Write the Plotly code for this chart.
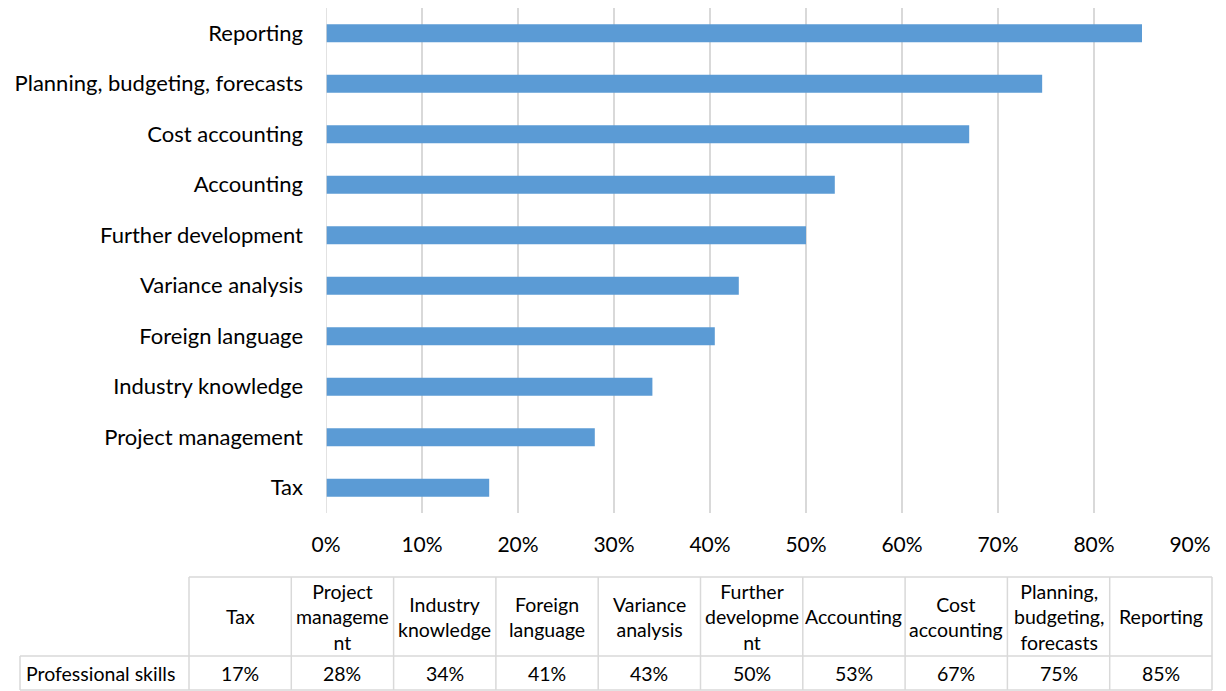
import plotly.graph_objects as go

categories = ["Tax", "Project management", "Industry knowledge", "Foreign language",
              "Variance analysis", "Further development", "Accounting", "Cost accounting",
              "Planning, budgeting, forecasts", "Reporting"]
values = [17, 28, 34, 40.5, 43, 50, 53, 67, 74.6, 85]
table_headers = ["Tax", "Project<br>manageme<br>nt", "Industry<br>knowledge", "Foreign<br>language",
                 "Variance<br>analysis", "Further<br>developme<br>nt", "Accounting", "Cost<br>accounting",
                 "Planning,<br>budgeting,<br>forecasts", "Reporting"]
table_values = ["17%", "28%", "34%", "41%", "43%", "50%", "53%", "67%", "75%", "85%"]
series_name = "Professional skills"

# page body has an 8px margin; shift the figure so it lands on the target pixels
OFF = 8
W, H = 1226 - OFF, 691 - OFF
L, R, T, B = 326 - OFF, 1190 - OFF, 8 - OFF, 513 - OFF
FONT = "Lato"

def px(x):
    return (x - OFF - L) / (R - L)

def py(y):
    return (B - (y - OFF)) / (B - T)

fig = go.Figure(go.Bar(
    y=categories, x=values, orientation="h",
    marker=dict(color="#5b9bd5", line=dict(width=0)),
    width=0.36, name=series_name,
))

fig.update_layout(
    width=W, height=H,
    margin=dict(l=L, r=W - R, t=T, b=H - B, pad=0),
    paper_bgcolor="white", plot_bgcolor="white",
    showlegend=False,
    font=dict(family=FONT, size=21, color="#000000"),
    xaxis=dict(range=[0, 90], dtick=10, ticksuffix="%", showgrid=True,
               gridcolor="#d9d9d9", gridwidth=1.5, zeroline=False, showline=False,
               ticks="", ticklabelstandoff=17, tickfont=dict(size=21, family=FONT)),
    yaxis=dict(categoryorder="array", categoryarray=categories, showgrid=False,
               zeroline=False, showline=False, ticks="", ticklabelstandoff=22,
               tickfont=dict(size=22, family=FONT)),
)

fig.add_shape(type="line", xref="x", yref="paper", x0=0, x1=0, y0=0, y1=1,
              line=dict(color="#d9d9d9", width=1.5))

# data table below the chart (target-pixel layout)
col_left = 189
col_w = 102.3
top, mid, bot = 577, 656, 690
left_edge = 20
right_edge = col_left + col_w * len(categories)
line_style = dict(color="#d9d9d9", width=1.5)

def hline(x0, x1, y):
    fig.add_shape(type="line", xref="paper", yref="paper", x0=px(x0), x1=px(x1),
                  y0=py(y), y1=py(y), line=line_style)

def vline(x, y0, y1):
    fig.add_shape(type="line", xref="paper", yref="paper", x0=px(x), x1=px(x),
                  y0=py(y0), y1=py(y1), line=line_style)

hline(col_left, right_edge, top)
hline(left_edge, right_edge, mid)
hline(left_edge, right_edge, bot)
vline(left_edge, mid, bot)
for i in range(len(categories) + 1):
    vline(col_left + col_w * i, top, bot)

TF = 19.5
for i, (h, v) in enumerate(zip(table_headers, table_values)):
    cx = col_left + col_w * (i + 0.5)
    fig.add_annotation(xref="paper", yref="paper", x=px(cx), y=py((top + mid) / 2),
                       text=h, showarrow=False, xanchor="center", yanchor="middle",
                       font=dict(size=TF, family=FONT), align="center")
    fig.add_annotation(xref="paper", yref="paper", x=px(cx), y=py((mid + bot) / 2),
                       text=v, showarrow=False, xanchor="center", yanchor="middle",
                       font=dict(size=TF, family=FONT))

fig.add_annotation(xref="paper", yref="paper", x=px(left_edge + 4), y=py((mid + bot) / 2),
                   text=series_name, showarrow=False, xanchor="left", yanchor="middle",
                   font=dict(size=TF, family=FONT))

fig.write_html("out.html")
